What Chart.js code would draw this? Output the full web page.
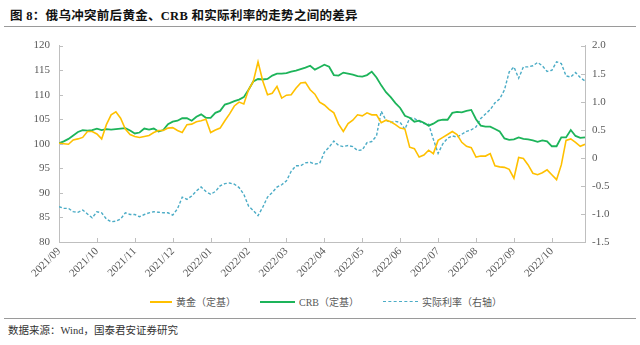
<!DOCTYPE html>
<html lang="zh">
<head>
<meta charset="UTF-8">
<title>俄乌冲突前后黄金、CRB和实际利率</title>
<script src="https://cdn.jsdelivr.net/npm/chart.js"></script>
<style>
  body {
    margin: 0;
    width: 640px;
    height: 345px;
    background: #fff;
    overflow: hidden;
    position: relative;
    font-family: "Liberation Serif", "Noto Sans CJK SC", serif;
  }
  .title {
    position: absolute;
    left: 10px;
    top: 5px;
    font-size: 12.5px;
    font-weight: bold;
    color: #111;
    letter-spacing: 0.3px;
  }
  .rule {
    position: absolute;
    left: 4px;
    width: 632px;
    border-top: 1px solid #9a9a9a;
  }
  .chart-box {
    position: absolute;
    left: 0;
    top: 30px;
    width: 640px;
    height: 255px;
  }
  .legend {
    position: absolute;
    top: 294px;
    font-size: 10px;
    color: #595959;
    display: flex;
    align-items: center;
    font-family: "Liberation Serif", "Noto Sans CJK SC", serif;
  }
  .legend i {
    display: inline-block;
    margin-right: 4px;
    border-top-width: 2px;
  }
  .source {
    position: absolute;
    left: 8px;
    top: 322px;
    font-size: 10.5px;
    color: #333;
  }
</style>
</head>
<body>

<div class="title">图 8：俄乌冲突前后黄金、CRB 和实际利率的走势之间的差异</div>
<div class="rule" style="top:26px"></div>

<div class="chart-box">
  <canvas id="chart"></canvas>
</div>

<div class="legend" style="left:150px"><i style="width:22px;border-top:2px solid #ffc000"></i>黄金（定基）</div>
<div class="legend" style="left:260px"><i style="width:35px;border-top:2px solid #1db45a"></i>CRB（定基）</div>
<div class="legend" style="left:383px"><i style="width:35px;border-top:1.5px dashed #4bacc6"></i>实际利率（右轴）</div>

<div class="rule" style="top:318px"></div>
<div class="source">数据来源：Wind，国泰君安证券研究</div>

<script>
// month labels on the x axis, one per tick
const monthLabels = ['2021/09','2021/10','2021/11','2021/12','2022/01','2022/02','2022/03',
  '2022/04','2022/05','2022/06','2022/07','2022/08','2022/09','2022/10'];

// sampling interval of the series below, in months
const STEP = 0.125;
const X_MAX = 13.875;

// gold, rebased (left axis)
const gold = [100.1,100.0,99.9,100.8,101.0,101.3,102.5,102.5,102.0,101.0,103.9,105.9,106.5,105.2,103.0,101.9,101.5,101.3,101.5,101.7,
  102.3,102.7,102.7,103.2,103.3,102.7,102.3,103.9,104.0,104.5,104.7,105.0,102.3,102.8,103.2,104.7,106.1,107.7,
  108.5,108.1,111.0,112.7,116.7,112.8,110.0,110.3,111.7,109.3,109.9,110.0,111.3,112.4,112.5,111.0,110.1,108.5,107.9,107.0,
  106.3,104.0,102.5,104.1,104.8,105.9,105.7,106.3,105.9,105.9,104.3,104.8,104.5,103.9,103.2,103.0,
  99.3,99.0,97.3,97.7,98.7,98.0,100.7,101.3,101.9,102.5,101.9,100.3,99.5,99.2,97.3,97.5,97.5,98.0,95.5,95.3,
  95.2,94.8,93.0,97.2,97.0,95.7,94.0,93.7,94.1,94.7,93.7,92.7,95.7,100.7,101.0,100.3,99.5,99.9];

// CRB index, rebased (left axis)
const crb = [100.1,100.5,101.0,101.7,102.4,102.8,102.7,102.8,103.1,102.8,103.0,102.9,103.0,103.1,103.2,102.7,102.1,102.3,103.1,102.9,
  103.1,102.5,102.8,104.0,104.5,104.7,105.2,105.2,104.7,105.5,106.0,105.3,105.3,106.3,106.7,108.0,108.3,108.7,
  109.0,109.5,111.0,112.7,113.2,113.1,113.2,113.9,114.3,114.3,114.4,114.7,114.9,115.2,115.5,115.9,115.1,115.6,116.1,115.7,
  114.0,113.9,114.5,114.3,114.1,113.8,113.7,114.0,114.7,113.5,111.9,110.5,109.5,108.3,107.3,105.7,
  105.3,104.5,104.7,104.3,103.7,104.1,104.7,104.9,104.9,106.3,106.5,106.4,106.7,106.9,105.0,103.7,103.5,103.5,103.0,102.5,
  101.1,100.8,100.9,101.3,101.0,100.9,100.7,100.4,100.7,100.5,99.5,99.5,101.3,101.3,102.8,101.6,101.2,101.3];

// real rate (right axis)
const realRate = [-0.87,-0.90,-0.90,-0.96,-0.97,-0.93,-1.00,-1.07,-0.96,-0.98,-1.09,-1.14,-1.13,-1.09,-0.98,-1.01,-1.01,-1.05,-1.01,-0.98,
  -0.96,-0.97,-0.98,-0.98,-1.02,-0.91,-0.70,-0.74,-0.68,-0.59,-0.52,-0.60,-0.65,-0.60,-0.50,-0.46,-0.45,-0.47,
  -0.53,-0.65,-0.86,-0.94,-1.03,-0.88,-0.70,-0.62,-0.52,-0.48,-0.41,-0.24,-0.14,-0.14,-0.09,-0.08,-0.11,-0.10,0.10,0.19,
  0.30,0.22,0.20,0.22,0.20,0.13,0.14,0.27,0.29,0.39,0.83,0.67,0.63,0.65,0.63,0.51,
  0.71,0.70,0.65,0.61,0.60,0.33,0.08,0.25,0.35,0.39,0.37,0.42,0.47,0.50,0.55,0.70,0.78,0.86,0.98,1.05,
  1.21,1.53,1.62,1.42,1.62,1.62,1.64,1.70,1.64,1.54,1.56,1.71,1.68,1.46,1.44,1.52,1.43,1.37];

const AXIS_COLOR = '#bfbfbf';
const TICK_COLOR = '#595959';
const tickFont = { family: '"Liberation Serif", serif', size: 11 };

const toPoints = arr => arr.map((v, i) => ({ x: i * STEP, y: v }));

// short tick marks pointing into the plot, like the original
const inwardTicks = {
  id: 'inwardTicks',
  afterDraw(chart) {
    const { ctx, chartArea: a, scales } = chart;
    ctx.save();
    ctx.strokeStyle = AXIS_COLOR;
    ctx.lineWidth = 1;
    ctx.beginPath();
    scales.y.ticks.forEach((t, i) => {
      const y = Math.round(scales.y.getPixelForTick(i)) + 0.5;
      ctx.moveTo(a.left, y); ctx.lineTo(a.left + 4, y);
    });
    scales.y1.ticks.forEach((t, i) => {
      const y = Math.round(scales.y1.getPixelForTick(i)) + 0.5;
      ctx.moveTo(a.right, y); ctx.lineTo(a.right - 4, y);
    });
    scales.x.ticks.forEach((t, i) => {
      const x = Math.round(scales.x.getPixelForTick(i)) + 0.5;
      ctx.moveTo(x, a.bottom); ctx.lineTo(x, a.bottom - 4);
    });
    ctx.stroke();
    ctx.restore();
  }
};

new Chart(document.getElementById('chart'), {
  type: 'line',
  data: {
    datasets: [
      { label: '黄金（定基）', data: toPoints(gold), borderColor: '#ffc000', borderWidth: 1.6, yAxisID: 'y' },
      { label: 'CRB（定基）', data: toPoints(crb), borderColor: '#1db45a', borderWidth: 1.8, yAxisID: 'y' },
      { label: '实际利率（右轴）', data: toPoints(realRate), borderColor: '#4bacc6', borderWidth: 1.4,
        borderDash: [3, 2], yAxisID: 'y1' }
    ]
  },
  options: {
    responsive: true,
    maintainAspectRatio: false,
    animation: false,
    layout: { padding: { top: 14, left: 0, right: 0, bottom: 0 } },
    elements: { point: { radius: 0 }, line: { tension: 0 } },
    plugins: { legend: { display: false }, tooltip: { enabled: false } },
    scales: {
      x: {
        type: 'linear',
        min: 0,
        max: X_MAX,
        grid: { drawOnChartArea: false, drawTicks: false },
        border: { color: AXIS_COLOR },
        ticks: {
          stepSize: 1,
          includeBounds: false,
          autoSkip: false,
          minRotation: 45,
          maxRotation: 45,
          padding: 3,
          color: TICK_COLOR,
          font: tickFont,
          callback: v => monthLabels[v] ?? ''
        },
        afterFit: s => { s.height = 43; }
      },
      y: {
        position: 'left',
        min: 80,
        max: 120,
        grid: { drawOnChartArea: false, drawTicks: false },
        border: { color: AXIS_COLOR },
        ticks: { stepSize: 5, padding: 9, color: TICK_COLOR, font: tickFont },
        afterFit: s => { s.width = 59; }
      },
      y1: {
        position: 'right',
        min: -1.5,
        max: 2,
        grid: { drawOnChartArea: false, drawTicks: false },
        border: { color: AXIS_COLOR },
        ticks: { stepSize: 0.5, padding: 7, color: TICK_COLOR, font: tickFont },
        afterFit: s => { s.width = 55; }
      }
    }
  },
  plugins: [inwardTicks]
});
</script>
</body>
</html>
